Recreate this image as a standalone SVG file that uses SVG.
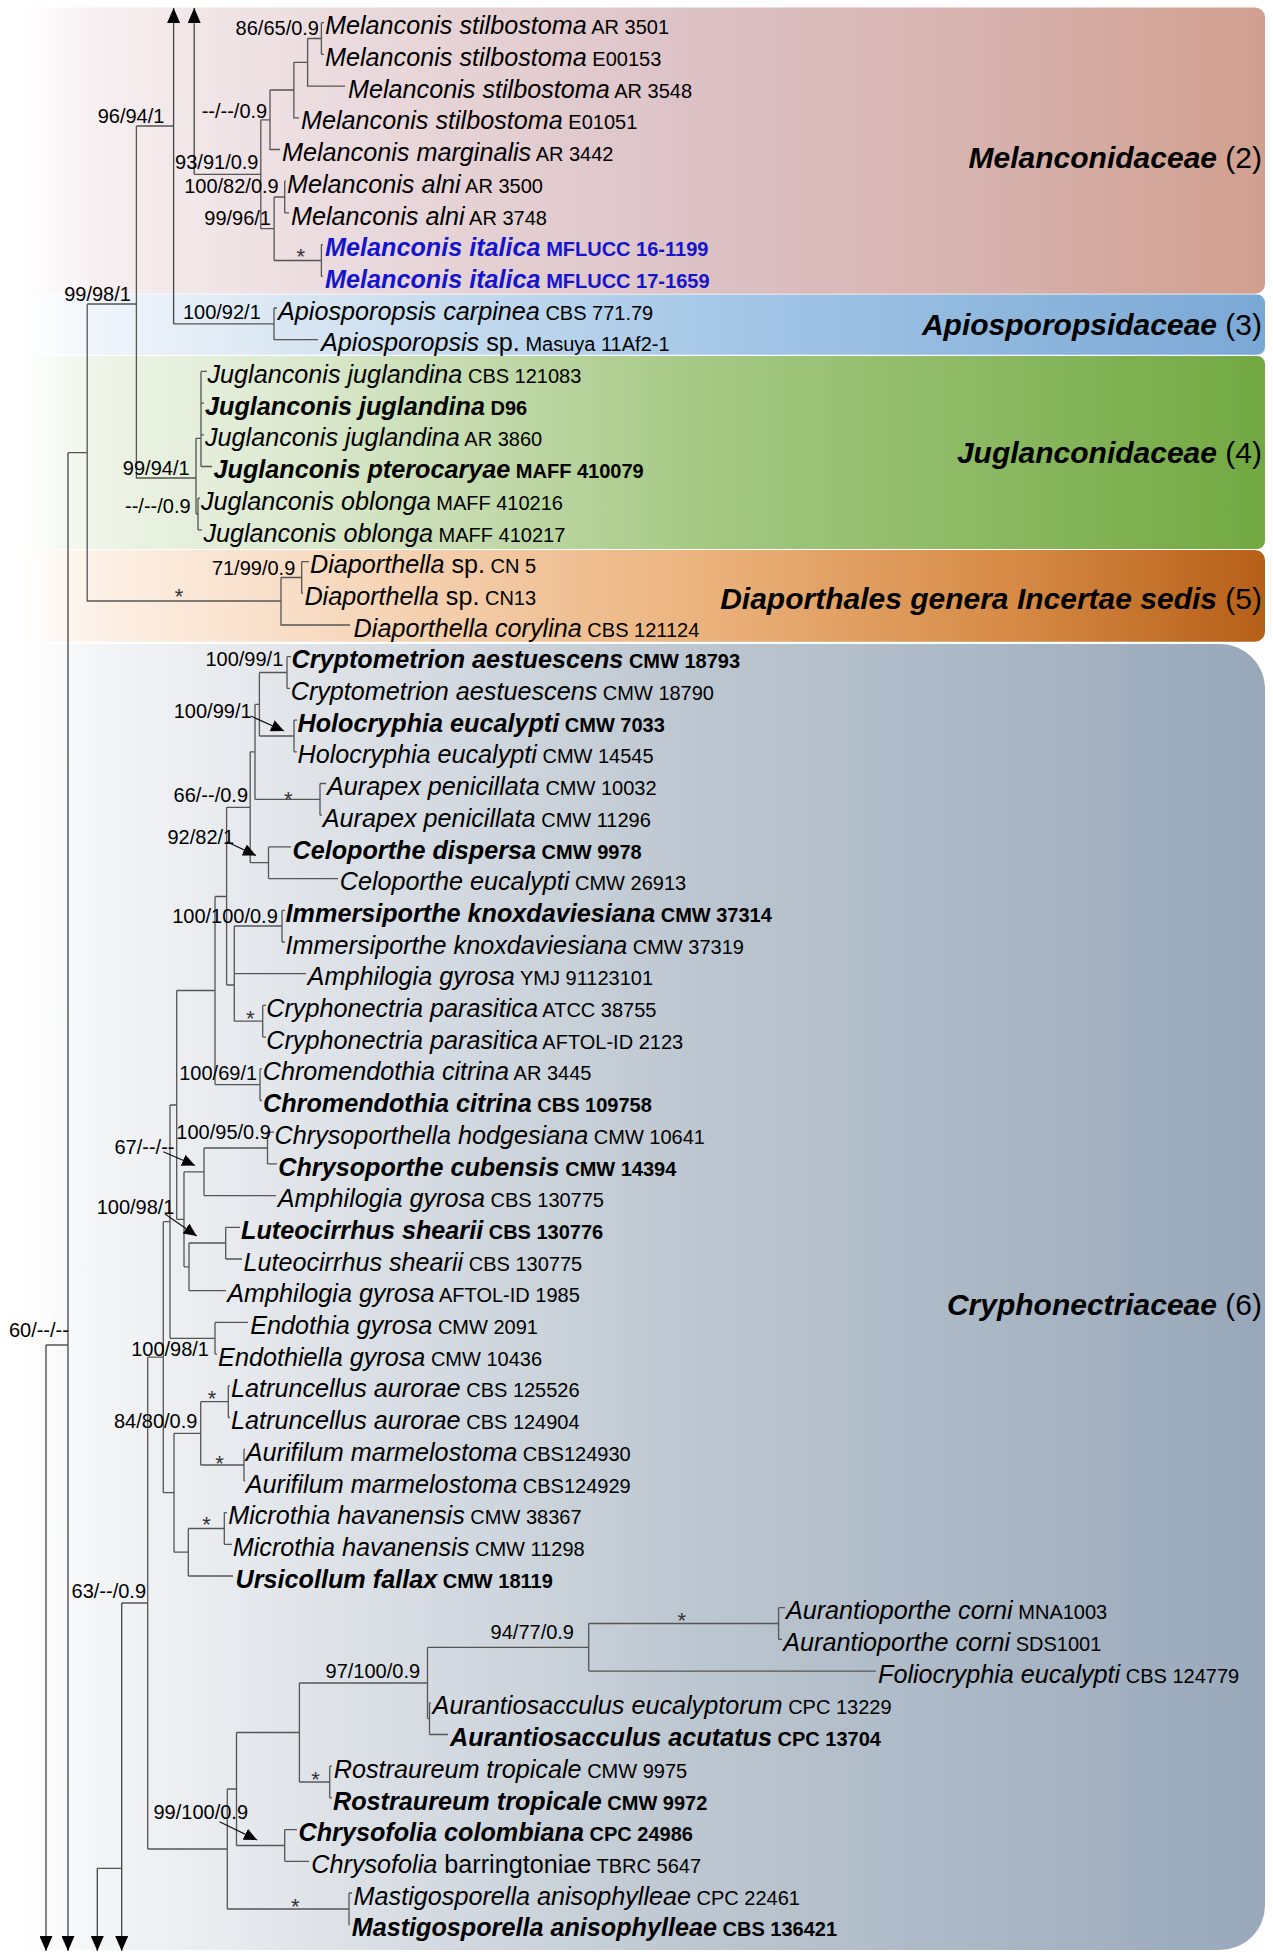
<svg xmlns="http://www.w3.org/2000/svg" width="1273" height="1952" viewBox="0 0 1273 1952">
<defs>
<style>
text{font-family:"Liberation Sans",Arial,sans-serif;fill:#000}
.n{font-style:italic;font-size:25.2px}
.u{font-style:normal;font-size:25.2px}
.c{font-style:normal;font-size:20px}
.b{font-weight:bold}
.blue{fill:#1414cc}
.s{font-size:20px;text-anchor:end}
.ast{font-size:22px;text-anchor:middle;fill:#333}
.fam{font-size:30px;font-weight:bold;font-style:italic;text-anchor:end}
.fam tspan{font-weight:normal;font-style:normal}
.br{fill:none;stroke:#555;stroke-width:1.3}
.ar{fill:none;stroke:#444;stroke-width:1.3;marker-end:url(#ah)}
.pt{fill:none;stroke:#111;stroke-width:1.2;marker-end:url(#ap)}
</style>
<marker id="ah" markerUnits="userSpaceOnUse" markerWidth="16" markerHeight="13" refX="15" refY="6.5" orient="auto" viewBox="0 0 16 13"><path d="M0,0 L15,6.5 L0,13 Z" fill="#000"/></marker>
<marker id="ap" markerUnits="userSpaceOnUse" markerWidth="14" markerHeight="12" refX="13" refY="6" orient="auto" viewBox="0 0 14 12"><path d="M0,0 L13,6 L0,12 Z" fill="#000"/></marker>
<linearGradient id="gMel" gradientUnits="userSpaceOnUse" x1="20" y1="0" x2="1265" y2="0"><stop offset="0" stop-color="#ffffff"/><stop offset="0.07" stop-color="#f6eef0"/><stop offset="0.23" stop-color="#ecdde0"/><stop offset="0.55" stop-color="#dcc1c5"/><stop offset="0.8" stop-color="#d6b0ab"/><stop offset="1" stop-color="#d19f8e"/></linearGradient>
<linearGradient id="gApi" gradientUnits="userSpaceOnUse" x1="20" y1="0" x2="1265" y2="0"><stop offset="0" stop-color="#ffffff"/><stop offset="0.07" stop-color="#eef4fa"/><stop offset="0.23" stop-color="#d7e5f2"/><stop offset="0.55" stop-color="#a6c8e7"/><stop offset="1" stop-color="#7aa8d5"/></linearGradient>
<linearGradient id="gJug" gradientUnits="userSpaceOnUse" x1="20" y1="0" x2="1265" y2="0"><stop offset="0" stop-color="#ffffff"/><stop offset="0.07" stop-color="#edf3e6"/><stop offset="0.23" stop-color="#dbe8cd"/><stop offset="0.55" stop-color="#a5c883"/><stop offset="1" stop-color="#72a942"/></linearGradient>
<linearGradient id="gDia" gradientUnits="userSpaceOnUse" x1="20" y1="0" x2="1265" y2="0"><stop offset="0" stop-color="#ffffff"/><stop offset="0.07" stop-color="#fcefe4"/><stop offset="0.23" stop-color="#f8dcc4"/><stop offset="0.55" stop-color="#ebb27c"/><stop offset="0.8" stop-color="#d68a45"/><stop offset="1" stop-color="#b65f18"/></linearGradient>
<linearGradient id="gCry" gradientUnits="userSpaceOnUse" x1="20" y1="0" x2="1265" y2="0"><stop offset="0" stop-color="#ffffff"/><stop offset="0.07" stop-color="#f3f4f6"/><stop offset="0.23" stop-color="#e0e4e9"/><stop offset="0.55" stop-color="#bcc6d0"/><stop offset="1" stop-color="#98a8ba"/></linearGradient>
</defs>
<rect x="0" y="0" width="1273" height="1952" fill="#ffffff"/>
<g id="panels">
<g id="panel-melanconidaceae"><path d="M20,7.6 H1255 A10,10 0 0 1 1265,17.6 V283.8 A10,10 0 0 1 1255,293.8 H20 Z" fill="url(#gMel)"/><text class="fam" x="1262" y="167.5">Melanconidaceae<tspan> (2)</tspan></text></g>
<g id="panel-apiosporopsidaceae"><path d="M20,294.6 H1257 A8,8 0 0 1 1265,302.6 V346.8 A8,8 0 0 1 1257,354.8 H20 Z" fill="url(#gApi)"/><text class="fam" x="1262" y="335">Apiosporopsidaceae<tspan> (3)</tspan></text></g>
<g id="panel-juglanconidaceae"><path d="M20,356 H1257 A8,8 0 0 1 1265,364 V541 A8,8 0 0 1 1257,549 H20 Z" fill="url(#gJug)"/><text class="fam" x="1262" y="463">Juglanconidaceae<tspan> (4)</tspan></text></g>
<g id="panel-diaporthales"><path d="M20,550 H1255 A10,10 0 0 1 1265,560 V631.8 A10,10 0 0 1 1255,641.8 H20 Z" fill="url(#gDia)"/><text class="fam" x="1262" y="608.5">Diaporthales genera Incertae sedis<tspan> (5)</tspan></text></g>
<g id="panel-cryphonectriaceae"><path d="M20,644 H1220 A45,45 0 0 1 1265,689 V1905 A45,45 0 0 1 1220,1950 H20 Z" fill="url(#gCry)"/><text class="fam" x="1262" y="1315">Cryphonectriaceae<tspan> (6)</tspan></text></g>
</g>
<g id="connectors">
<path class="br" d="M307.6,38.5 H321.4 M321.4,22.7 V54.4 M321.4,22.7 H324 M321.4,54.4 H324
M293.9,62.3 H307.6 M307.6,38.5 V86.1 H345
M270,90 H293.9 M293.9,62.3 V117.8 H299
M260.8,119.8 H270 M270,90 V149.5 H280
M274.1,197 H284.7 M284.7,181.2 V212.9 M284.7,181.2 H286 M284.7,212.9 H289
M274.1,260.5 H321.4 M321.4,244.6 V276.3 M321.4,244.6 H323 M321.4,276.3 H323
M260.8,228.7 H274.1 M274.1,197 V260.5
M194.2,174.3 H260.8 M260.8,119.8 V228.7
M136.4,126 H173.6
M173.6,323.9 H274 M274,308 V339.7 M274,308 H277 M274,339.7 H318
M87.2,304 H136.4 M136.4,126 V478 H196
M196,438.3 V514 M196,438.3 H201 M201,371.4 V466.5 M201,371.4 H207 M201,403.1 H204 M201,434.8 H204 M201,466.5 H212
M196,514 H198 M198,498.2 V529.9 M198,498.2 H200 M198,529.9 H202
M68,452.7 H87.2 M87.2,304 V601 H281 M281,577.5 V625 H350
M281,577.5 H301.7 M301.7,561.6 V593.3 M301.7,561.6 H309 M301.7,593.3 H303
M46,1345 H68
M259.4,672.5 H287 M287,656.7 V688.4 M287,656.7 H291 M287,688.4 H290
M259.4,736 H294 M294,720.1 V751.8 M294,720.1 H297 M294,751.8 H297
M255,704.3 H259.4 M259.4,672.5 V736
M255,799.4 H320 M320,783.5 V815.2 M320,783.5 H326 M320,815.2 H322
M250.2,751.8 H255 M255,704.3 V799.4
M250.2,862.7 H268.5 M268.5,846.9 V878.6 M268.5,846.9 H291 M268.5,878.6 H338
M226.6,807.3 H250.2 M250.2,751.8 V862.7
M234.3,926 H282 M282,910.3 V942 M282,910.3 H285 M282,942 H285
M234.3,973.7 H306
M234.3,1021.2 H262.7 M262.7,1005.4 V1037.1 M262.7,1005.4 H266 M262.7,1037.1 H266
M226.6,985 H234.3 M234.3,926 V1021.2
M215,896.5 H226.6 M226.6,807.3 V985
M215,1084.6 H260 M260,1068.8 V1100.5 M260,1068.8 H262 M260,1100.5 H262
M176.7,990.5 H215 M215,896.5 V1084.6
M204,1148 H267.5 M267.5,1132.2 V1163.9 M267.5,1132.2 H274 M267.5,1163.9 H277
M204,1195.6 H276
M184,1171.8 H204 M204,1148 V1195.6
M189,1243 H225.7 M225.7,1227.3 V1259 M225.7,1227.3 H240 M225.7,1259 H242
M189,1290.7 H226
M184,1266.8 H189 M189,1243 V1290.7
M176.7,1219.3 H184 M184,1171.8 V1266.8
M170,1105 H176.7 M176.7,990.5 V1219.3
M170,1338.3 H215 M215,1322.4 V1354.1 M215,1322.4 H248 M215,1354.1 H217
M163.3,1221.7 H170 M170,1105 V1338.3
M200.7,1401.7 H228.3 M228.3,1385.8 V1417.5 M228.3,1385.8 H230 M228.3,1417.5 H230
M200.7,1465 H244 M244,1449.2 V1480.9 M244,1449.2 H245 M244,1480.9 H245
M174,1433.3 H200.7 M200.7,1401.7 V1465
M188.3,1528.5 H224.3 M224.3,1512.6 V1544.3 M224.3,1512.6 H227 M224.3,1544.3 H232
M188.3,1576 H233
M174,1552.2 H188.3 M188.3,1528.5 V1576
M163.3,1492.7 H174 M174,1433.3 V1552.2
M147.7,1357.2 H163.3 M163.3,1221.7 V1492.7
M588.7,1623.5 H778.6 M778.6,1607.7 V1639.4 M778.6,1607.7 H785 M778.6,1639.4 H782
M588.7,1671.1 H876
M427.5,1647.3 H588.7 M588.7,1623.5 V1671.1
M427.5,1718.6 H429.5 M429.5,1702.8 V1734.5 M429.5,1702.8 H431 M429.5,1734.5 H448
M299.4,1683 H427.5 M427.5,1647.3 V1718.6
M299.4,1782 H329.7 M329.7,1766.2 V1797.9 M329.7,1766.2 H332 M329.7,1797.9 H332
M236.5,1732.5 H299.4 M299.4,1683 V1782
M236.5,1845.5 H284.7 M284.7,1829.6 V1861.3 M284.7,1829.6 H297 M284.7,1861.3 H309
M227.3,1789 H236.5 M236.5,1732.5 V1845.5
M227.3,1909 H349 M349,1893 V1924.7 M349,1893 H352 M349,1924.7 H350
M147.7,1849 H227.3 M227.3,1789 V1909
M121.7,1603 H147.7 M147.7,1357.2 V1849
M97.3,1868.3 H121.7"/>
<line class="ar" x1="194.2" y1="174.3" x2="194.2" y2="8"/>
<line class="ar" x1="173.6" y1="323.9" x2="173.6" y2="8"/>
<line class="ar" x1="68" y1="452.7" x2="68" y2="1951"/>
<line class="ar" x1="46" y1="1345" x2="46" y2="1951"/>
<line class="ar" x1="121.7" y1="1603" x2="121.7" y2="1951"/>
<line class="ar" x1="97.3" y1="1868.3" x2="97.3" y2="1951"/>
<line class="pt" x1="250.7" y1="716" x2="284" y2="731"/>
<line class="pt" x1="226.7" y1="841.7" x2="256" y2="855.5"/>
<line class="pt" x1="163.3" y1="1151.7" x2="195" y2="1165.5"/>
<line class="pt" x1="165" y1="1214" x2="196.7" y2="1236"/>
<line class="pt" x1="219.5" y1="1821.7" x2="257" y2="1840"/>
</g>
<g id="supports">
<text class="s" x="319" y="35">86/65/0.9</text>
<text class="s" x="267.2" y="118.3">--/--/0.9</text>
<text class="s" x="164.4" y="123.3">96/94/1</text>
<text class="s" x="258.5" y="169.3">93/91/0.9</text>
<text class="s" x="278.7" y="193.3">100/82/0.9</text>
<text class="s" x="271" y="225">99/96/1</text>
<text class="s" x="130.9" y="301">99/98/1</text>
<text class="s" x="260.8" y="319">100/92/1</text>
<text class="s" x="189.6" y="475">99/94/1</text>
<text class="s" x="190.6" y="512.7">--/--/0.9</text>
<text class="s" x="295.3" y="575">71/99/0.9</text>
<text class="s" x="283.3" y="666">100/99/1</text>
<text class="s" x="251.6" y="718.3">100/99/1</text>
<text class="s" x="248" y="801.7">66/--/0.9</text>
<text class="s" x="234.2" y="844">92/82/1</text>
<text class="s" x="277.8" y="922.7">100/100/0.9</text>
<text class="s" x="257.1" y="1080">100/69/1</text>
<text class="s" x="270.9" y="1139">100/95/0.9</text>
<text class="s" x="174.5" y="1154.3">67/--/--</text>
<text class="s" x="174.5" y="1214">100/98/1</text>
<text class="s" x="68.9" y="1337.3">60/--/--</text>
<text class="s" x="209" y="1356">100/98/1</text>
<text class="s" x="197.4" y="1428.3">84/80/0.9</text>
<text class="s" x="146" y="1597.7">63/--/0.9</text>
<text class="s" x="574" y="1639.3">94/77/0.9</text>
<text class="s" x="420.1" y="1678.3">97/100/0.9</text>
<text class="s" x="248" y="1819.3">99/100/0.9</text>
<text class="ast" x="300.8" y="264">*</text>
<text class="ast" x="179" y="604">*</text>
<text class="ast" x="288.4" y="806.5">*</text>
<text class="ast" x="250.3" y="1025.8">*</text>
<text class="ast" x="212.1" y="1405.8">*</text>
<text class="ast" x="219.5" y="1470.8">*</text>
<text class="ast" x="206.6" y="1531.8">*</text>
<text class="ast" x="681.9" y="1627.5">*</text>
<text class="ast" x="315.5" y="1786.5">*</text>
<text class="ast" x="295.2" y="1914.2">*</text>
</g>
<g id="taxa">
<g id="t01"><text x="325" y="34.3"><tspan class="n">Melanconis stilbostoma</tspan><tspan class="c"> AR 3501</tspan></text></g>
<g id="t02"><text x="325" y="66"><tspan class="n">Melanconis stilbostoma</tspan><tspan class="c"> E00153</tspan></text></g>
<g id="t03"><text x="348" y="97.7"><tspan class="n">Melanconis stilbostoma</tspan><tspan class="c"> AR 3548</tspan></text></g>
<g id="t04"><text x="301" y="129.4"><tspan class="n">Melanconis stilbostoma</tspan><tspan class="c"> E01051</tspan></text></g>
<g id="t05"><text x="282" y="161.1"><tspan class="n">Melanconis marginalis</tspan><tspan class="c"> AR 3442</tspan></text></g>
<g id="t06"><text x="287" y="192.8"><tspan class="n">Melanconis alni</tspan><tspan class="c"> AR 3500</tspan></text></g>
<g id="t07"><text x="291" y="224.5"><tspan class="n">Melanconis alni</tspan><tspan class="c"> AR 3748</tspan></text></g>
<g id="t08"><text class="b blue" x="325" y="256.2"><tspan class="n">Melanconis italica</tspan><tspan class="c"> MFLUCC 16-1199</tspan></text></g>
<g id="t09"><text class="b blue" x="325" y="287.9"><tspan class="n">Melanconis italica</tspan><tspan class="c"> MFLUCC 17-1659</tspan></text></g>
<g id="t10"><text x="278" y="319.6"><tspan class="n">Apiosporopsis carpinea</tspan><tspan class="c"> CBS 771.79</tspan></text></g>
<g id="t11"><text x="321" y="351.3"><tspan class="n">Apiosporopsis</tspan><tspan class="u"> sp.</tspan><tspan class="c"> Masuya 11Af2-1</tspan></text></g>
<g id="t12"><text x="207.5" y="383"><tspan class="n">Juglanconis juglandina</tspan><tspan class="c"> CBS 121083</tspan></text></g>
<g id="t13"><text class="b" x="205" y="414.7"><tspan class="n">Juglanconis juglandina</tspan><tspan class="c"> D96</tspan></text></g>
<g id="t14"><text x="205" y="446.4"><tspan class="n">Juglanconis juglandina</tspan><tspan class="c"> AR 3860</tspan></text></g>
<g id="t15"><text class="b" x="213.5" y="478.1"><tspan class="n">Juglanconis pterocaryae</tspan><tspan class="c"> MAFF 410079</tspan></text></g>
<g id="t16"><text x="201" y="509.8"><tspan class="n">Juglanconis oblonga</tspan><tspan class="c"> MAFF 410216</tspan></text></g>
<g id="t17"><text x="203.4" y="541.5"><tspan class="n">Juglanconis oblonga</tspan><tspan class="c"> MAFF 410217</tspan></text></g>
<g id="t18"><text x="310" y="573.2"><tspan class="n">Diaporthella</tspan><tspan class="u"> sp.</tspan><tspan class="c"> CN 5</tspan></text></g>
<g id="t19"><text x="304.4" y="604.9"><tspan class="n">Diaporthella</tspan><tspan class="u"> sp.</tspan><tspan class="c"> CN13</tspan></text></g>
<g id="t20"><text x="353.6" y="636.6"><tspan class="n">Diaporthella corylina</tspan><tspan class="c"> CBS 121124</tspan></text></g>
<g id="t21"><text class="b" x="291.6" y="668.3"><tspan class="n">Cryptometrion aestuescens</tspan><tspan class="c"> CMW 18793</tspan></text></g>
<g id="t22"><text x="290.7" y="700"><tspan class="n">Cryptometrion aestuescens</tspan><tspan class="c"> CMW 18790</tspan></text></g>
<g id="t23"><text class="b" x="297.5" y="731.7"><tspan class="n">Holocryphia eucalypti</tspan><tspan class="c"> CMW 7033</tspan></text></g>
<g id="t24"><text x="297.5" y="763.4"><tspan class="n">Holocryphia eucalypti</tspan><tspan class="c"> CMW 14545</tspan></text></g>
<g id="t25"><text x="327" y="795.1"><tspan class="n">Aurapex penicillata</tspan><tspan class="c"> CMW 10032</tspan></text></g>
<g id="t26"><text x="322.8" y="826.8"><tspan class="n">Aurapex penicillata</tspan><tspan class="c"> CMW 11296</tspan></text></g>
<g id="t27"><text class="b" x="292.5" y="858.5"><tspan class="n">Celoporthe dispersa</tspan><tspan class="c"> CMW 9978</tspan></text></g>
<g id="t28"><text x="339.8" y="890.2"><tspan class="n">Celoporthe eucalypti</tspan><tspan class="c"> CMW 26913</tspan></text></g>
<g id="t29"><text class="b" x="285.6" y="921.9"><tspan class="n">Immersiporthe knoxdaviesiana</tspan><tspan class="c"> CMW 37314</tspan></text></g>
<g id="t30"><text x="285.6" y="953.6"><tspan class="n">Immersiporthe knoxdaviesiana</tspan><tspan class="c"> CMW 37319</tspan></text></g>
<g id="t31"><text x="307.6" y="985.3"><tspan class="n">Amphilogia gyrosa</tspan><tspan class="c"> YMJ 91123101</tspan></text></g>
<g id="t32"><text x="266.3" y="1017"><tspan class="n">Cryphonectria parasitica</tspan><tspan class="c"> ATCC 38755</tspan></text></g>
<g id="t33"><text x="266.3" y="1048.7"><tspan class="n">Cryphonectria parasitica</tspan><tspan class="c"> AFTOL-ID 2123</tspan></text></g>
<g id="t34"><text x="262.7" y="1080.4"><tspan class="n">Chromendothia citrina</tspan><tspan class="c"> AR 3445</tspan></text></g>
<g id="t35"><text class="b" x="263" y="1112.1"><tspan class="n">Chromendothia citrina</tspan><tspan class="c"> CBS 109758</tspan></text></g>
<g id="t36"><text x="274.6" y="1143.8"><tspan class="n">Chrysoporthella hodgesiana</tspan><tspan class="c"> CMW 10641</tspan></text></g>
<g id="t37"><text class="b" x="278.3" y="1175.5"><tspan class="n">Chrysoporthe cubensis</tspan><tspan class="c"> CMW 14394</tspan></text></g>
<g id="t38"><text x="277.8" y="1207.2"><tspan class="n">Amphilogia gyrosa</tspan><tspan class="c"> CBS 130775</tspan></text></g>
<g id="t39"><text class="b" x="241" y="1238.9"><tspan class="n">Luteocirrhus shearii</tspan><tspan class="c"> CBS 130776</tspan></text></g>
<g id="t40"><text x="243.4" y="1270.6"><tspan class="n">Luteocirrhus shearii</tspan><tspan class="c"> CBS 130775</tspan></text></g>
<g id="t41"><text x="227.3" y="1302.3"><tspan class="n">Amphilogia gyrosa</tspan><tspan class="c"> AFTOL-ID 1985</tspan></text></g>
<g id="t42"><text x="250.3" y="1334"><tspan class="n">Endothia gyrosa</tspan><tspan class="c"> CMW 2091</tspan></text></g>
<g id="t43"><text x="218.1" y="1365.7"><tspan class="n">Endothiella gyrosa</tspan><tspan class="c"> CMW 10436</tspan></text></g>
<g id="t44"><text x="231" y="1397.4"><tspan class="n">Latruncellus aurorae</tspan><tspan class="c"> CBS 125526</tspan></text></g>
<g id="t45"><text x="231" y="1429.1"><tspan class="n">Latruncellus aurorae</tspan><tspan class="c"> CBS 124904</tspan></text></g>
<g id="t46"><text x="245.7" y="1460.8"><tspan class="n">Aurifilum marmelostoma</tspan><tspan class="c"> CBS124930</tspan></text></g>
<g id="t47"><text x="245.7" y="1492.5"><tspan class="n">Aurifilum marmelostoma</tspan><tspan class="c"> CBS124929</tspan></text></g>
<g id="t48"><text x="228.2" y="1524.2"><tspan class="n">Microthia havanensis</tspan><tspan class="c"> CMW 38367</tspan></text></g>
<g id="t49"><text x="232.8" y="1555.9"><tspan class="n">Microthia havanensis</tspan><tspan class="c"> CMW 11298</tspan></text></g>
<g id="t50"><text class="b" x="235.6" y="1587.6"><tspan class="n">Ursicollum fallax</tspan><tspan class="c"> CMW 18119</tspan></text></g>
<g id="t51"><text x="785.9" y="1619.3"><tspan class="n">Aurantioporthe corni</tspan><tspan class="c"> MNA1003</tspan></text></g>
<g id="t52"><text x="783.3" y="1651"><tspan class="n">Aurantioporthe corni</tspan><tspan class="c"> SDS1001</tspan></text></g>
<g id="t53"><text x="878" y="1682.7"><tspan class="n">Foliocryphia eucalypti</tspan><tspan class="c"> CBS 124779</tspan></text></g>
<g id="t54"><text x="432.6" y="1714.4"><tspan class="n">Aurantiosacculus eucalyptorum</tspan><tspan class="c"> CPC 13229</tspan></text></g>
<g id="t55"><text class="b" x="450" y="1746.1"><tspan class="n">Aurantiosacculus acutatus</tspan><tspan class="c"> CPC 13704</tspan></text></g>
<g id="t56"><text x="333.8" y="1777.8"><tspan class="n">Rostraureum tropicale</tspan><tspan class="c"> CMW 9975</tspan></text></g>
<g id="t57"><text class="b" x="333" y="1809.5"><tspan class="n">Rostraureum tropicale</tspan><tspan class="c"> CMW 9972</tspan></text></g>
<g id="t58"><text class="b" x="298.5" y="1841.2"><tspan class="n">Chrysofolia colombiana</tspan><tspan class="c"> CPC 24986</tspan></text></g>
<g id="t59"><text x="311.3" y="1872.9"><tspan class="n">Chrysofolia</tspan><tspan class="u"> barringtoniae</tspan><tspan class="c"> TBRC 5647</tspan></text></g>
<g id="t60"><text x="353.6" y="1904.6"><tspan class="n">Mastigosporella anisophylleae</tspan><tspan class="c"> CPC 22461</tspan></text></g>
<g id="t61"><text class="b" x="351.7" y="1936.3"><tspan class="n">Mastigosporella anisophylleae</tspan><tspan class="c"> CBS 136421</tspan></text></g>
</g>
</svg>
